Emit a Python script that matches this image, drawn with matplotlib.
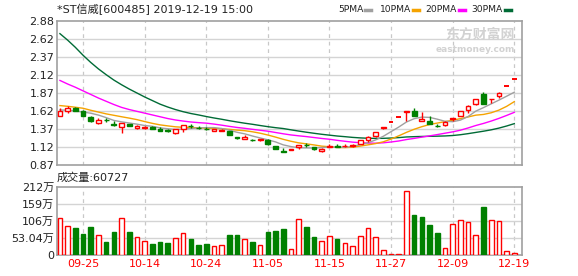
import matplotlib
matplotlib.use("Agg")
import matplotlib.pyplot as plt
from matplotlib.patches import Rectangle
from matplotlib.lines import Line2D
import numpy as np

plt.rcParams["font.family"] = ["DejaVu Sans", "Noto Sans CJK SC"]

# ---- data (price in yuan, volume in 万手) ----
dates = ["09-20", "09-23", "09-24", "09-25", "09-26", "09-27", "09-30",
         "10-08", "10-09", "10-10", "10-11", "10-14", "10-15", "10-16", "10-17", "10-18",
         "10-21", "10-22", "10-23", "10-24", "10-25", "10-28", "10-29", "10-30", "10-31",
         "11-01", "11-04", "11-05", "11-06", "11-07", "11-08", "11-11", "11-12", "11-13",
         "11-14", "11-15", "11-18", "11-19", "11-20", "11-21", "11-22", "11-25", "11-26",
         "11-27", "11-28", "11-29", "12-02", "12-03", "12-04", "12-05", "12-06", "12-09",
         "12-10", "12-11", "12-12", "12-13", "12-16", "12-17", "12-18", "12-19"]

opens = [1.56, 1.63, 1.67, 1.62, 1.54, 1.46, 1.50, 1.45, 1.40, 1.445,
         1.39, 1.39, 1.40, 1.38, 1.355, 1.325, 1.37, 1.415, 1.395, 1.38,
         1.35, 1.35, 1.345, 1.26, 1.235, 1.225, 1.215, 1.22, 1.135, 1.065,
         1.085, 1.125, 1.155, 1.12, 1.065, 1.13, 1.135, 1.135, 1.14, 1.17,
         1.225, 1.275, 1.395, 1.47, 1.54, 1.615, 1.62, 1.49, 1.485, 1.42,
         1.425, 1.52, 1.56, 1.635, 1.72, 1.855, 1.785, 1.84, 1.97, 2.07]
highs = [1.66, 1.70, 1.68, 1.64, 1.56, 1.53, 1.53, 1.48, 1.46, 1.45,
         1.43, 1.42, 1.41, 1.40, 1.37, 1.37, 1.43, 1.44, 1.41, 1.40,
         1.37, 1.37, 1.35, 1.27, 1.295, 1.24, 1.235, 1.23, 1.14, 1.105,
         1.10, 1.15, 1.18, 1.12, 1.11, 1.16, 1.16, 1.16, 1.16, 1.22,
         1.275, 1.33, 1.40, 1.47, 1.54, 1.62, 1.66, 1.615, 1.555, 1.44,
         1.48, 1.53, 1.62, 1.705, 1.79, 1.89, 1.79, 1.885, 1.97, 2.07]
lows = [1.55, 1.60, 1.62, 1.56, 1.47, 1.44, 1.47, 1.42, 1.32, 1.41,
        1.38, 1.37, 1.37, 1.35, 1.33, 1.31, 1.33, 1.39, 1.37, 1.36,
        1.34, 1.34, 1.29, 1.24, 1.23, 1.21, 1.21, 1.155, 1.10, 1.06,
        1.08, 1.09, 1.12, 1.085, 1.06, 1.12, 1.12, 1.13, 1.13, 1.17,
        1.20, 1.27, 1.38, 1.47, 1.54, 1.49, 1.56, 1.485, 1.445, 1.40,
        1.42, 1.49, 1.55, 1.60, 1.71, 1.72, 1.74, 1.80, 1.97, 2.07]
closes = [1.63, 1.67, 1.62, 1.56, 1.49, 1.50, 1.495, 1.425, 1.46, 1.41,
          1.42, 1.40, 1.37, 1.35, 1.35, 1.37, 1.425, 1.41, 1.39, 1.375,
          1.37, 1.365, 1.29, 1.245, 1.265, 1.22, 1.23, 1.16, 1.10, 1.06,
          1.10, 1.15, 1.15, 1.09, 1.095, 1.14, 1.13, 1.145, 1.15, 1.22,
          1.27, 1.33, 1.40, 1.47, 1.54, 1.62, 1.56, 1.51, 1.45, 1.415,
          1.475, 1.53, 1.62, 1.70, 1.79, 1.72, 1.79, 1.88, 1.97, 2.07]

ma5 = [1.64, 1.635, 1.625, 1.61, 1.594, 1.568, 1.533, 1.494, 1.474, 1.458,
       1.442, 1.423, 1.412, 1.39, 1.378, 1.368, 1.373, 1.381, 1.389, 1.394,
       1.394, 1.382, 1.358, 1.329, 1.307, 1.277, 1.25, 1.224, 1.195, 1.154,
       1.13, 1.114, 1.112, 1.11, 1.117, 1.125, 1.121, 1.12, 1.132, 1.157,
       1.183, 1.223, 1.274, 1.338, 1.402, 1.472, 1.518, 1.54, 1.536, 1.511,
       1.482, 1.476, 1.498, 1.548, 1.623, 1.672, 1.724, 1.776, 1.83, 1.886]
ma10 = [1.70, 1.69, 1.677, 1.663, 1.635, 1.61, 1.585, 1.565, 1.545, 1.526,
        1.505, 1.478, 1.453, 1.432, 1.418, 1.405, 1.398, 1.397, 1.39, 1.386,
        1.381, 1.378, 1.37, 1.359, 1.351, 1.336, 1.316, 1.291, 1.262, 1.231,
        1.204, 1.182, 1.168, 1.153, 1.136, 1.128, 1.118, 1.116, 1.121, 1.137,
        1.154, 1.172, 1.197, 1.235, 1.28, 1.328, 1.371, 1.407, 1.437, 1.457,
        1.477, 1.497, 1.519, 1.542, 1.567, 1.577, 1.60, 1.637, 1.689, 1.755]
ma20 = [2.05, 2.00, 1.955, 1.905, 1.855, 1.805, 1.76, 1.715, 1.675, 1.645,
        1.62, 1.595, 1.57, 1.545, 1.52, 1.50, 1.485, 1.472, 1.463, 1.456,
        1.443, 1.428, 1.411, 1.396, 1.384, 1.37, 1.357, 1.344, 1.326, 1.308,
        1.292, 1.28, 1.269, 1.256, 1.243, 1.232, 1.217, 1.204, 1.192, 1.184,
        1.179, 1.177, 1.183, 1.194, 1.208, 1.228, 1.244, 1.262, 1.279, 1.297,
        1.316, 1.335, 1.358, 1.389, 1.423, 1.452, 1.485, 1.522, 1.563, 1.606]
ma30 = [2.70, 2.61, 2.51, 2.40, 2.30, 2.21, 2.13, 2.055, 1.99, 1.93,
        1.875, 1.82, 1.77, 1.72, 1.68, 1.645, 1.615, 1.59, 1.57, 1.548,
        1.528, 1.51, 1.49, 1.472, 1.455, 1.44, 1.423, 1.407, 1.393, 1.381,
        1.363, 1.346, 1.33, 1.315, 1.301, 1.289, 1.277, 1.268, 1.258, 1.251,
        1.246, 1.244, 1.245, 1.249, 1.255, 1.264, 1.268, 1.271, 1.273, 1.275,
        1.278, 1.284, 1.295, 1.31, 1.327, 1.344, 1.363, 1.387, 1.416, 1.449]

volumes = [114, 89, 84, 65, 87, 61, 40, 71, 114, 71,
           55, 43.5, 34, 40, 37, 52, 67, 50, 31, 34,
           28, 31, 62, 62, 50, 40, 30, 71, 74.5, 81,
           18.6, 110.7, 87, 56, 42.4, 58, 50, 36, 27, 58,
           83, 55, 14.5, 3, 3, 197.7, 124, 118, 93, 68,
           22, 95, 107.6, 101, 61, 149, 107.6, 105.5, 11.4, 6.07]
vol_up = [1, 1, 0, 0, 0, 1, 0, 0, 1, 0,
          1, 1, 0, 0, 0, 1, 1, 0, 0, 0,
          1, 1, 0, 0, 1, 0, 1, 0, 0, 0,
          1, 1, 0, 0, 1, 1, 0, 1, 1, 1,
          1, 1, 1, 1, 1, 1, 0, 0, 0, 0,
          1, 1, 1, 1, 1, 0, 1, 1, 1, 1]

label_idx = [3, 11, 19, 27, 35, 43, 51, 59]
price_ticks = [0.87, 1.12, 1.37, 1.62, 1.87, 2.12, 2.37, 2.62, 2.88]
vol_ticks = [0, 53.04, 106.08, 159.12, 212.16]
vol_tick_labels = ["0", "53.04万", "106万", "159万", "212万"]
last_volume = 60727

RED = "#ff0000"
GREEN = "#008000"
FRAME = "#a0a0a0"
GRID = "#d4d4d4"
MA_COLORS = {"5PMA": "#a0a0a0", "10PMA": "#f5a300", "20PMA": "#ff00ff", "30PMA": "#006b36"}

fig = plt.figure(figsize=(5.78, 2.76), dpi=100)
W, H = 578, 276
ax = fig.add_axes([57 / W, 1 - 165.3 / H, 465 / W, 144.6 / H])
axv = fig.add_axes([57 / W, 1 - 255 / H, 465 / W, 68.3 / H])

x = np.arange(len(dates))
xlim = (-0.38, 60.0)

for a in (ax, axv):
    a.set_xlim(*xlim)
    for s in a.spines.values():
        s.set_color(FRAME)
        s.set_linewidth(1.2)
    for i in label_idx:
        a.axvline(i, color="#c8c8c8", lw=0.9, ls=(0, (3, 3)), zorder=0)

# ---- price panel ----
ax.set_ylim(price_ticks[0], price_ticks[-1])
pt = np.linspace(price_ticks[0], price_ticks[-1], len(price_ticks))
ax.set_yticks(pt)
ax.set_yticklabels([f"{v:.2f}" for v in price_ticks])
for v in pt[1:-1]:
    ax.axhline(v, color=GRID, lw=1, zorder=0)
ax.set_xticks([])
ax.tick_params(axis="y", length=0, pad=2, labelsize=8, colors="#222222")

ax.plot(x, ma30, color=MA_COLORS["30PMA"], lw=1, zorder=2)
ax.plot(x, ma20, color=MA_COLORS["20PMA"], lw=1, zorder=2)
ax.plot(x, ma10, color=MA_COLORS["10PMA"], lw=1, zorder=2)
ax.plot(x, ma5, color=MA_COLORS["5PMA"], lw=1, zorder=2)

bw = 0.62
for i in range(len(dates)):
    o, h, l, c = opens[i], highs[i], lows[i], closes[i]
    col = RED if c >= o else GREEN
    ax.vlines(i, l, h, color=col, lw=1, zorder=3)
    lo, hi = min(o, c), max(o, c)
    if hi - lo < 0.004:
        ax.hlines(c, i - bw / 2, i + bw / 2, color=col, lw=1.4, zorder=4)
    else:
        fc = "white" if c >= o else GREEN
        ax.add_patch(Rectangle((i - bw / 2, lo), bw, hi - lo, facecolor=fc,
                               edgecolor=col, lw=1, zorder=4))

# watermark
ax.text(0.985, 0.905, "东方财富网", transform=ax.transAxes, ha="right", va="center",
        fontsize=10, color="#d2d2d2", fontweight="bold", family=["Noto Sans CJK SC"], zorder=1)
ax.text(0.985, 0.8, "eastmoney.com", transform=ax.transAxes, ha="right", va="center",
        fontsize=6.5, color="#d2d2d2", fontweight="bold", zorder=1)

# ---- volume panel ----
axv.set_ylim(vol_ticks[0], vol_ticks[-1])
axv.set_yticks(vol_ticks)
axv.set_yticklabels(vol_tick_labels)
for v in vol_ticks[1:-1]:
    axv.axhline(v, color=GRID, lw=1, zorder=0)
axv.set_xticks(label_idx)
axv.set_xticklabels([dates[i] for i in label_idx])
axv.tick_params(axis="y", length=0, pad=2, labelsize=8, colors="#222222")
axv.tick_params(axis="x", length=0, pad=3, labelsize=8, colors=RED)

for i in range(len(dates)):
    if vol_up[i]:
        axv.bar(i, volumes[i], width=0.6, facecolor="white", edgecolor=RED, lw=1, zorder=3)
    else:
        axv.bar(i, volumes[i], width=0.6, facecolor=GREEN, edgecolor=GREEN, lw=1, zorder=3)

# ---- header texts ----
fig.text(57 / W, 1 - 9 / H, "*ST信威[600485] 2019-12-19 15:00", ha="left", va="center",
         fontsize=8, color="#222222")
fig.text(57 / W, 1 - 177.5 / H, f"成交量:{last_volume}", ha="left", va="center",
         fontsize=8, color="#222222")

legend_x = [338, 380, 425, 471]
swatch_x = [365, 413, 459, 505]
for (name, col), lx, sx in zip(MA_COLORS.items(), legend_x, swatch_x):
    fig.text(lx / W, 1 - 9 / H, name, ha="left", va="center", fontsize=6.6, color="#222222")
    fig.add_artist(Line2D([sx / W, (sx + 6) / W], [1 - 9.5 / H, 1 - 9.5 / H],
                          color=col, lw=2.5, transform=fig.transFigure))

fig.savefig("out.png", dpi=100, facecolor="white")
